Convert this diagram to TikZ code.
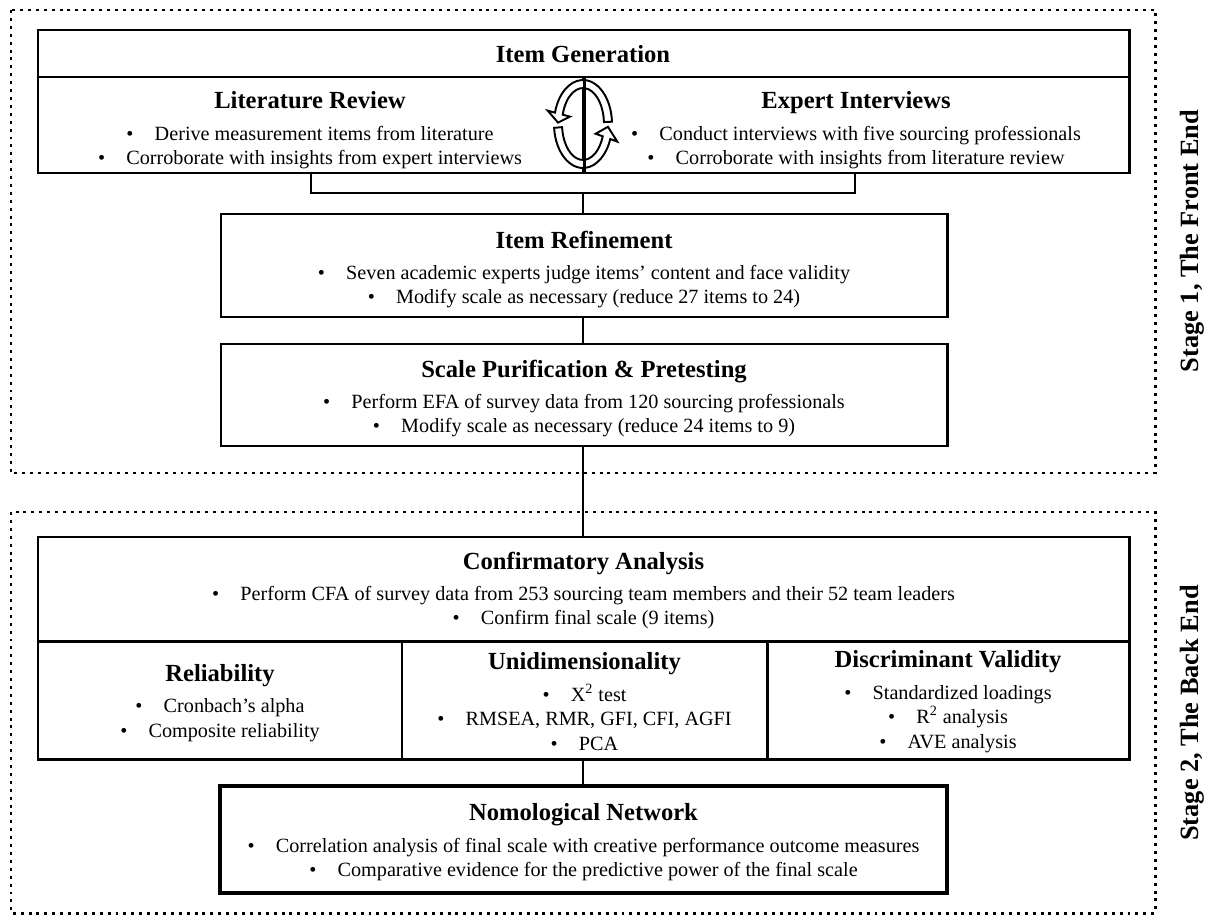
\documentclass[tikz,border=0pt]{standalone}
\usepackage{fontspec}
\setmainfont{Liberation Serif}
\usetikzlibrary{fit}
\newcommand\itmb{\textbullet\hspace{1.05em}}
\newcommand\ttlfont{\fontsize{14}{16}\selectfont\bfseries}
\begin{document}
\begin{tikzpicture}[x=0.02cm,y=-0.02cm,
  box/.style={draw, line width=1.7pt, inner sep=0pt},
  txt/.style={inner sep=0pt, align=center, font=\fontsize{11.5}{13.9}\selectfont},
  conn/.style={line width=0.85pt},
  stagebox/.style={line width=1.7pt, dash pattern=on 1.7pt off 2.8pt},
  stagelabel/.style={rotate=90, font=\fontsize{15}{17}\selectfont\bfseries},
  cycarrow/.style={draw, fill=white, line width=1.1pt, line join=miter}]
\useasboundingbox (0,0) rectangle (1214,916);

% stage frames
\draw[stagebox] (11,10) rectangle (1155,473);
\draw[stagebox] (11,512) rectangle (1155,913.5);
\node[stagelabel] (s1) at (1192,241) {Stage 1, The Front End};
\node[stagelabel] (s2) at (1192,713) {Stage 2, The Back End};

% Item generation
\node[box, fit={(38,30)(1129,77)}] (gen) {};
\node[box, fit={(38,77)(583,173)}] (litrev) {};
\node[box, fit={(583,77)(1129,173)}] (expint) {};
\node[txt] (gent) at (583,54) {\ttlfont Item Generation};
\node[txt] (litrevt) at (310,130.5) {{\ttlfont Literature Review}\\[4pt]
  \itmb Derive measurement items from literature\\
  \itmb Corroborate with insights from expert interviews};
\node[txt] (expintt) at (856,130.5) {{\ttlfont Expert Interviews}\\[4pt]
  \itmb Conduct interviews with five sourcing professionals\\
  \itmb Corroborate with insights from literature review};

% circular arrows
\begin{scope}[shift={(583,124)}, yscale=-1]
  \draw[cycarrow] (3:29 and 44) arc[start angle=3, end angle=165, x radius=29, y radius=44]
    -- (165:36.5 and 51.5) -- (178:25 and 40) -- (165:13.5 and 28.5)
    -- (165:21 and 36) arc[start angle=165, end angle=3, x radius=21, y radius=36] -- cycle;
  \draw[cycarrow] (185:29 and 44) arc[start angle=185, end angle=340, x radius=29, y radius=44]
    -- (340:36.5 and 51.5) -- (356:25 and 40) -- (340:13.5 and 28.5)
    -- (340:21 and 36) arc[start angle=340, end angle=185, x radius=21, y radius=36] -- cycle;
\end{scope}
\draw[line width=1.3pt] (litrev.north east) -- (litrev.south east);

% refinement and purification
\node[box, fit={(221,214)(947,317)}] (refine) {};
\node[txt] (refinet) at (584,269.5) {{\ttlfont Item Refinement}\\[4pt]
  \itmb Seven academic experts judge items’ content and face validity\\
  \itmb Modify scale as necessary (reduce 27 items to 24)};
\node[box, fit={(221,344)(947,446)}] (purify) {};
\node[txt] (purifyt) at (584,398.5) {{\ttlfont Scale Purification \& Pretesting}\\[4pt]
  \itmb Perform EFA of survey data from 120 sourcing professionals\\
  \itmb Modify scale as necessary (reduce 24 items to 9)};

% confirmatory
\node[box, fit={(38,537)(1129,641)}] (confirm) {};
\node[txt] (confirmt) at (583.5,590.5) {{\ttlfont Confirmatory Analysis}\\[4pt]
  \itmb Perform CFA of survey data from 253 sourcing team members and their 52 team leaders\\
  \itmb Confirm final scale (9 items)};
\node[box, fit={(38,641)(402,759)}] (rel) {};
\node[txt] (relt) at (220,703) {{\ttlfont Reliability}\\[4pt]
  \itmb Cronbach’s alpha\\
  \itmb Composite reliability};
\node[box, fit={(402,641)(767,759)}] (uni) {};
\node[txt] (unit) at (584.5,701.5) {{\ttlfont Unidimensionality}\\[4pt]
  \itmb X\textsuperscript{2} test\\
  \itmb RMSEA, RMR, GFI, CFI, AGFI\\
  \itmb PCA};
\node[box, fit={(767,641)(1129,759)}] (disc) {};
\node[txt] (disct) at (948,701.5) {{\ttlfont Discriminant Validity}\\[4pt]
  \itmb Standardized loadings\\
  \itmb R\textsuperscript{2} analysis\\
  \itmb AVE analysis};
\node[box, line width=2.2pt, fit={(220,786)(947,893)}] (nomo) {};
\node[txt] (nomot) at (583.5,842.5) {{\ttlfont Nomological Network}\\[4pt]
  \itmb Correlation analysis of final scale with creative performance outcome measures\\
  \itmb Comparative evidence for the predictive power of the final scale};

% connectors
\coordinate (bl) at (311,193);
\coordinate (br) at (855,193);
\coordinate (bm) at (583,193);
\draw[conn] (litrev.south -| bl) -- (bl) -- (br) -- (expint.south -| br);
\draw[conn] (bm) -- (refine.north -| bm);
\draw[conn] (refine.south -| bm) -- (purify.north -| bm);
\draw[conn] (purify.south -| bm) -- (confirm.north -| bm);
\draw[conn] (uni.south -| bm) -- (nomo.north -| bm);
\end{tikzpicture}
\end{document}
